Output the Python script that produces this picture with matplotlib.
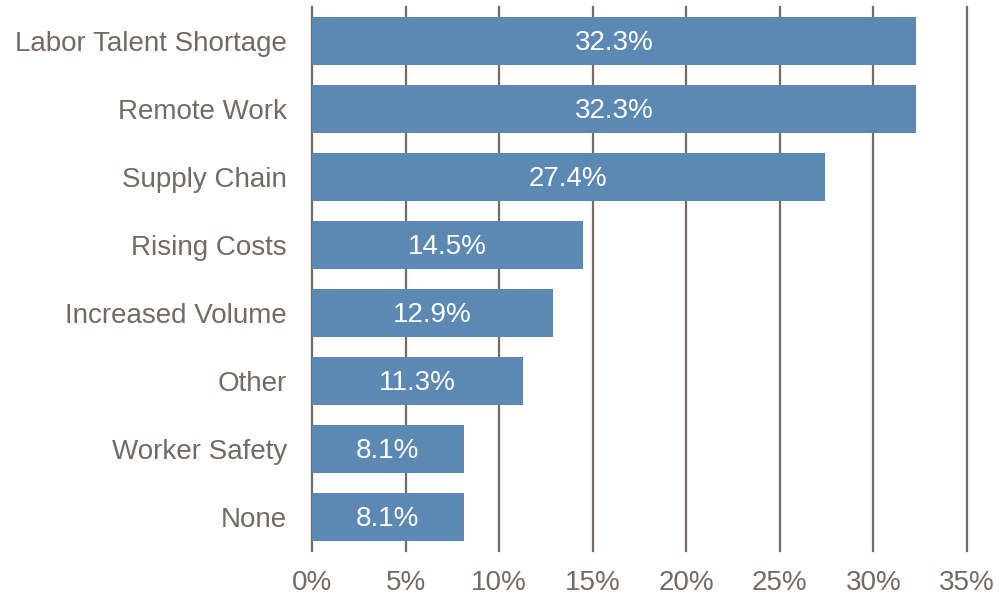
import matplotlib.pyplot as plt
import numpy as np

plt.rcParams['font.family'] = ['Liberation Sans', 'DejaVu Sans']

# data
categories = ["Labor Talent Shortage", "Remote Work", "Supply Chain", "Rising Costs",
              "Increased Volume", "Other", "Worker Safety", "None"]
values = [32.3, 32.3, 27.4, 14.5, 12.9, 11.3, 8.1, 8.1]
xticks = [0, 5, 10, 15, 20, 25, 30, 35]

text_color = "#756a62"
grid_color = "#766a62"
bar_color = "#5b89b4"

fig = plt.figure(figsize=(9.99, 5.99), dpi=100)
ax = fig.add_axes([312 / 999, 1 - 551 / 599, (967 - 312) / 999, (551 - 7) / 599])

y = np.arange(len(categories))
ax.barh(y, values, height=0.7, color=bar_color, zorder=3)

for yi, v in zip(y, values):
    ax.text(v / 2, yi + 0.03, f"{v:.1f}%", ha="center", va="center", color="white",
            fontsize=20, zorder=4)

ax.set_xlim(0, 35)
ax.set_ylim(len(categories) - 0.5, -0.5)
ax.set_yticks(y)
ax.set_yticklabels(categories, fontsize=20, color=text_color)
ax.set_xticks(xticks)
ax.set_xticklabels([f"{t}%" for t in xticks], fontsize=20, color=text_color)
ax.tick_params(axis="both", length=0)
ax.tick_params(axis="y", pad=18)
ax.tick_params(axis="x", pad=14)

for t in xticks:
    ax.axvline(t, color=grid_color, linewidth=1.6, zorder=1, clip_on=False)

for s in ax.spines.values():
    s.set_visible(False)

fig.savefig("out.png", dpi=100)
